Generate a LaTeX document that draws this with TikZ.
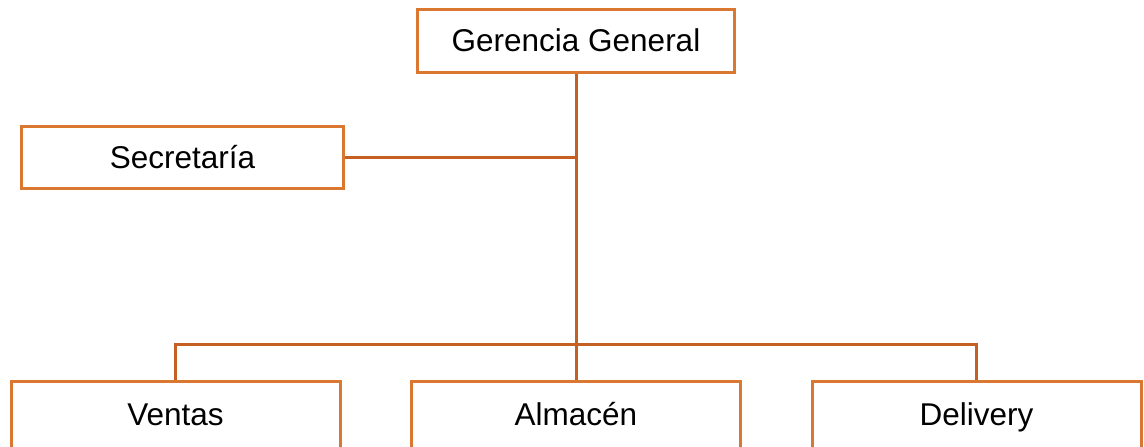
\documentclass[tikz,border=0pt]{standalone}
\usepackage{fontspec}
\setmainfont{Liberation Sans}
\usepackage{tikz}
\usetikzlibrary{calc}
\definecolor{boxorange}{RGB}{218,120,50}
\definecolor{lineorange}{RGB}{197,96,36}
\tikzset{
	unitbox/.style={draw=boxorange, line width=3pt, fill=white, minimum width=#1, minimum height=63pt, inner sep=0pt, text height=25pt, text depth=4pt, font=\fontsize{31.5}{36}\selectfont},
	unitbox/.default=322pt,
	linkline/.style={draw=lineorange, line width=3pt}
}

\begin{document}
\begin{tikzpicture}[x=1pt, y=-1pt]
	\useasboundingbox (0,0) rectangle (1144,447);

	% cajas
	\node[unitbox=317pt] (ger) at (576,41) {Gerencia General};
	\node[unitbox=322pt, minimum height=62pt] (sec) at (182.5,157.5) {Secretaría};

	\node[unitbox=329pt, minimum height=67pt] (ven) at (175.5,414.5) {Ventas};
	\node[unitbox=329pt, minimum height=67pt] (alm) at (576,414.5) {Almacén};
	\node[unitbox=329pt, minimum height=67pt] (del) at (976.5,414.5) {Delivery};

	\coordinate (bus) at ($(alm.north)+(0,-35)$);

	% conectores
	\draw[linkline] (ger.south) -- (bus);
	\draw[linkline] (sec.east) -- (sec.east -| ger.south);
	\draw[linkline] (ven.north) |- (bus) -| (del.north);
	\draw[linkline] (bus) -- (alm.north);

\end{tikzpicture}
\end{document}
